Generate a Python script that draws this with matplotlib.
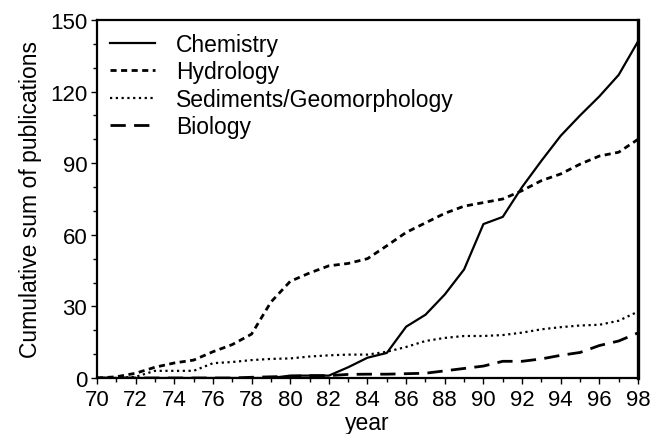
import matplotlib
matplotlib.use('Agg')
import matplotlib.pyplot as plt
from matplotlib.ticker import MultipleLocator

# data
years = list(range(70, 99))
chemistry = [0, 0, 0, 0, 0, 0, 0, 0, 0, 0, 1, 1, 1, 4.5, 8.5, 10.5, 21.5, 26.5,
             35, 45.5, 64.5, 67.5, 80, 91, 101.5, 110, 118, 127, 141]
hydrology = [0, 0.5, 2, 4.5, 6.3, 7.5, 11, 14, 18.4, 31.8, 40.5, 44, 47, 48, 50,
             55.4, 61, 65, 69, 72, 73.5, 75, 78.5, 82.7, 85.5, 89.6, 93, 94.6, 100]
sediments = [0, 0, 0.5, 3, 3, 3, 6.2, 6.7, 7.5, 8, 8.2, 9, 9.5, 9.8, 9.8, 11, 13,
             15.5, 16.8, 17.6, 17.6, 18, 19, 20.4, 21.3, 22, 22.3, 24, 27.8]
biology = [0, 0, 0, 0, 0, 0, 0, 0, 0.3, 0.5, 0.7, 1, 1, 1.5, 1.6, 1.6, 1.8, 2,
           3, 4, 5, 7, 7, 8, 9.5, 10.7, 13.6, 15.5, 18.9]

plt.rcParams['font.family'] = ['Liberation Sans', 'DejaVu Sans']

fig = plt.figure(figsize=(6.51, 4.35), dpi=100)
ax = fig.add_axes([97 / 651, 1 - 379 / 435, 541 / 651, 358 / 435])

lw = 1.6
ax.plot(years, chemistry, color='black', linewidth=lw, linestyle='-', label='Chemistry')
ax.plot(years, hydrology, color='black', linewidth=2.0, linestyle=(0, (2.2, 1.6)), label='Hydrology')
ax.plot(years, sediments, color='black', linewidth=lw, linestyle=(0, (1, 1.6)), label='Sediments/Geomorphology')
ax.plot(years, biology, color='black', linewidth=2.0, linestyle=(0, (5.5, 3)), label='Biology')

# limits and ticks
ax.set_xlim(70, 98)
ax.set_ylim(0, 150)
ax.xaxis.set_major_locator(MultipleLocator(2))
ax.xaxis.set_minor_locator(MultipleLocator(1))
ax.yaxis.set_major_locator(MultipleLocator(30))
ax.yaxis.set_minor_locator(MultipleLocator(10))
ax.tick_params(which='both', direction='out', width=1, labelsize=16)
ax.tick_params(axis='x', pad=4)
ax.tick_params(axis='y', pad=3)
ax.tick_params(which='major', length=4)
ax.tick_params(which='minor', length=3)
for s in ax.spines.values():
    s.set_linewidth(1.6)
ax.spines['right'].set_linewidth(2.4)

# text
ax.set_xlabel('year', fontsize=16.5, labelpad=1)
ax.set_ylabel('Cumulative sum of publications', fontsize=16.5, labelpad=6)

ax.legend(loc='upper left', frameon=False, fontsize=16.5, handlelength=2.0,
          handletextpad=0.9, labelspacing=0.2, borderaxespad=0.25,
          borderpad=0.3)

fig.savefig('out.png', dpi=100)
